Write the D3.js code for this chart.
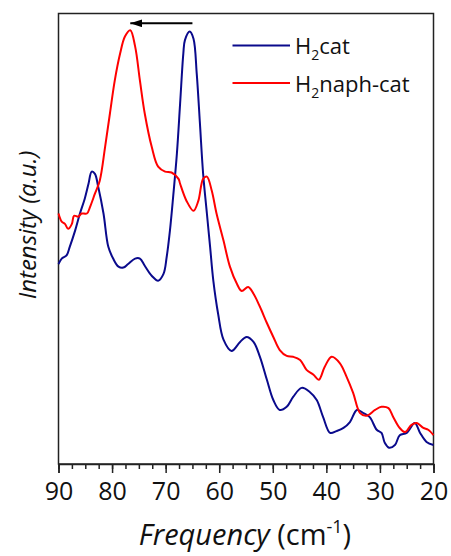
<!DOCTYPE html>
<html>
<head>
<meta charset="utf-8">
<script src="https://cdn.jsdelivr.net/npm/d3@7"></script>
<style>
  body { margin: 0; background: #fff; }
  svg { display: block; font-family: "Open Sans", sans-serif; }
</style>
</head>
<body>
<svg id="chart" width="451" height="556"></svg>
<script>
// ---- data (frequency in cm^-1, intensity in arbitrary units) ----
const seriesNames = ["H2cat", "H2naph-cat"];
const seriesColors = ["#0a0a8c", "#ff0000"];

const catFreq = [90.0, 89.4, 88.5, 87.9, 86.9, 86.0, 85.1, 84.4, 83.8, 83.2, 82.6, 81.6, 80.7, 79.8, 78.8, 77.9, 77.0, 75.7, 74.8, 73.9, 72.6, 71.4, 70.4, 69.8, 69.2, 68.6, 67.9, 67.3, 66.7, 66.4, 65.5, 64.8, 64.2, 63.6, 63.0, 62.3, 61.7, 61.1, 60.2, 59.2, 57.7, 56.1, 54.9, 53.6, 52.4, 51.1, 49.9, 48.7, 47.4, 46.2, 44.6, 43.1, 41.8, 40.6, 39.3, 38.1, 36.8, 35.6, 34.3, 33.1, 31.9, 30.6, 29.7, 29.1, 28.3, 27.2, 26.3, 25.0, 23.5, 22.5, 21.3, 20.0];
const catInt = [0.444, 0.456, 0.463, 0.482, 0.518, 0.556, 0.589, 0.622, 0.649, 0.644, 0.616, 0.556, 0.482, 0.456, 0.438, 0.436, 0.444, 0.456, 0.456, 0.440, 0.418, 0.407, 0.422, 0.460, 0.518, 0.593, 0.689, 0.800, 0.911, 0.941, 0.960, 0.944, 0.867, 0.756, 0.644, 0.556, 0.482, 0.407, 0.333, 0.276, 0.251, 0.271, 0.282, 0.271, 0.238, 0.187, 0.142, 0.120, 0.127, 0.149, 0.169, 0.160, 0.142, 0.104, 0.069, 0.073, 0.080, 0.093, 0.120, 0.113, 0.104, 0.076, 0.069, 0.047, 0.036, 0.042, 0.064, 0.069, 0.091, 0.069, 0.049, 0.042];

const naphFreq = [90.0, 89.4, 88.8, 88.2, 87.5, 87.1, 86.3, 85.7, 84.7, 84.1, 83.2, 82.3, 81.3, 80.4, 79.5, 78.5, 77.6, 76.6, 75.7, 74.8, 73.9, 72.6, 71.4, 70.1, 68.9, 67.6, 67.3, 66.1, 64.8, 63.9, 63.0, 62.3, 61.4, 60.5, 59.2, 58.0, 56.7, 55.8, 54.6, 53.6, 52.4, 51.1, 49.9, 48.7, 47.4, 46.2, 44.9, 43.7, 42.4, 41.4, 40.3, 39.0, 37.5, 36.2, 35.0, 33.7, 32.5, 30.9, 29.7, 28.4, 27.5, 26.3, 25.3, 24.1, 23.1, 21.9, 21.0, 20.0];
const naphInt = [0.556, 0.538, 0.533, 0.522, 0.533, 0.551, 0.549, 0.556, 0.556, 0.571, 0.600, 0.629, 0.704, 0.778, 0.851, 0.911, 0.949, 0.963, 0.927, 0.851, 0.778, 0.704, 0.660, 0.649, 0.647, 0.633, 0.622, 0.584, 0.562, 0.584, 0.633, 0.638, 0.607, 0.556, 0.496, 0.438, 0.400, 0.384, 0.393, 0.378, 0.349, 0.313, 0.282, 0.253, 0.240, 0.238, 0.231, 0.209, 0.198, 0.187, 0.216, 0.238, 0.224, 0.193, 0.158, 0.113, 0.107, 0.120, 0.127, 0.124, 0.104, 0.080, 0.071, 0.087, 0.091, 0.080, 0.076, 0.064];

const xTicks = [90, 80, 70, 60, 50, 40, 30, 20];
const xMinorTicks = d3.range(90, 19.9, -2.5);
const arrowFrom = 65;   // peak shift arrow (cm^-1)
const arrowTo = 76.6;

// ---- layout ----
const svg = d3.select("#chart");
const L = 58.5, R = 433.5, T = 13.5, B = 464;

const x = d3.scaleLinear().domain([90, 20]).range([L, R]);
const y = d3.scaleLinear().domain([0, 1]).range([B, T]);

// frame
svg.append("rect")
  .attr("x", L).attr("y", T)
  .attr("width", R - L).attr("height", B - T)
  .attr("fill", "none").attr("stroke", "#222").attr("stroke-width", 1.5);

// minor ticks
svg.append("g")
  .attr("transform", `translate(0,${B})`)
  .call(d3.axisBottom(x).tickValues(xMinorTicks).tickSize(5).tickFormat(""))
  .call(g => g.select(".domain").remove())
  .call(g => g.selectAll("line").attr("stroke", "#222").attr("stroke-width", 1.5));

// major ticks
svg.append("g")
  .attr("transform", `translate(0,${B})`)
  .call(d3.axisBottom(x).tickValues(xTicks).tickSize(9).tickPadding(9).tickFormat(d3.format("d")))
  .call(g => g.select(".domain").attr("stroke", "#222").attr("stroke-width", 1.5))
  .call(g => g.selectAll("line").attr("stroke", "#222").attr("stroke-width", 1.5))
  .call(g => g.selectAll("text")
    .attr("fill", "#111")
    .style("font-family", "'Open Sans', sans-serif")
    .style("font-size", "25px"));

// lines
const line = d3.line().curve(d3.curveCatmullRom.alpha(0.5));
const series = [
  { f: catFreq, v: catInt, color: seriesColors[0] },
  { f: naphFreq, v: naphInt, color: seriesColors[1] }
];
series.forEach(s => {
  const pts = s.f.map((f, i) => [x(f), y(s.v[i])]);
  svg.append("path")
    .attr("d", line(pts))
    .attr("fill", "none")
    .attr("stroke", s.color)
    .attr("stroke-width", 2)
    .attr("stroke-linejoin", "round");
});

// arrow
svg.append("defs").append("marker")
  .attr("id", "ah").attr("viewBox", "0 0 12 8")
  .attr("refX", 12).attr("refY", 4)
  .attr("markerWidth", 12).attr("markerHeight", 8)
  .attr("markerUnits", "userSpaceOnUse")
  .attr("orient", "auto")
  .append("path").attr("d", "M0,0 L12,4 L0,8 Z").attr("fill", "#000");
svg.append("line")
  .attr("x1", x(arrowFrom)).attr("x2", x(arrowTo))
  .attr("y1", 23.3).attr("y2", 23.3)
  .attr("stroke", "#000").attr("stroke-width", 2)
  .attr("marker-end", "url(#ah)");

// legend
const legY = [45.5, 83];
series.forEach((s, i) => {
  svg.append("line")
    .attr("x1", 232.5).attr("x2", 290)
    .attr("y1", legY[i]).attr("y2", legY[i])
    .attr("stroke", s.color).attr("stroke-width", 2);
  const name = seriesNames[i];
  const t = svg.append("text")
    .attr("x", 295).attr("y", legY[i] + 8.5)
    .attr("fill", "#111")
    .style("font-size", "22px");
  t.append("tspan").text(name[0]);
  t.append("tspan").text(name[1]).attr("dy", 6).style("font-size", "14px");
  t.append("tspan").text(name.slice(2)).attr("dy", -6);
});

// axis titles
const xt = svg.append("text")
  .attr("x", 245).attr("y", 545)
  .attr("text-anchor", "middle")
  .attr("fill", "#111")
  .style("font-size", "29px");
xt.append("tspan").text("Frequency").style("font-style", "italic");
xt.append("tspan").text(" (cm");
xt.append("tspan").text("-1").attr("dy", -12).style("font-size", "18px");
xt.append("tspan").text(")").attr("dy", 12);

svg.append("text")
  .attr("transform", `translate(36,225) rotate(-90)`)
  .attr("text-anchor", "middle")
  .attr("fill", "#111")
  .style("font-size", "24px")
  .style("font-style", "italic")
  .text("Intensity (a.u.)");
</script>
</body>
</html>
